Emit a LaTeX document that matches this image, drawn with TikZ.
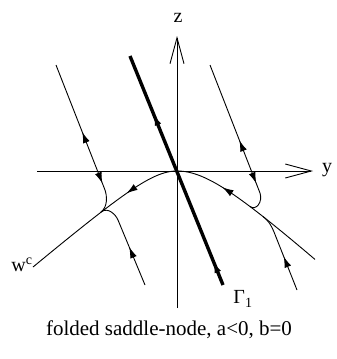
\documentclass[tikz,border=0pt]{standalone}
\usepackage{fontspec}
\setmainfont{Liberation Serif}
\usepackage{tikz}
\usetikzlibrary{arrows.meta, decorations.markings, calc}

\tikzset{
  axis/.style={line width=0.9pt, -{Straight Barb[length=26pt,width=14pt]}},
  orbit/.style={line width=0.9pt},
  gammaline/.style={line width=3.4pt},
  fwd/.style={postaction={decorate, decoration={markings,
      mark=at position #1 with {\arrow{Latex[length=11pt,width=7pt]}}}}},
  bwd/.style={postaction={decorate, decoration={markings,
      mark=at position #1 with {\arrowreversed{Latex[length=11pt,width=7pt]}}}}},
}

\begin{document}
\begin{tikzpicture}[x=1pt, y=-1pt, every node/.style={font=\fontsize{20}{24}\selectfont}]
  \useasboundingbox (0,0) rectangle (337,359);
  \coordinate (O) at (177,171);
  \coordinate (zbot) at (177,308);
  \coordinate (ztop) at (177,36);
  \coordinate (yleft) at (37,171);
  \coordinate (yright) at (313,171);
  \coordinate (gbot) at (223,285);
  \coordinate (gtop) at (130,56);
  \coordinate (ulstart) at (56,65);
  \coordinate (llstart) at (145,285);
  \coordinate (urstart) at (210,65);
  \coordinate (lrstart) at (297,290);
  \coordinate (jleft) at (101,212);
  \coordinate (jright) at (250,206.5);
  \coordinate (jright2) at (263,216.5);

  % axes
  \draw[axis] (zbot) -- (ztop);
  \draw[axis] (yleft) -- (yright);
  \node (zlab) at (178,18) {z};
  \node (ylab) at (327,170) {y};

  % center manifold
  \draw[orbit, bwd=-56pt] plot[domain=-14.4:0, samples=80] ({177+10*\x},{141+10*sqrt(0.7225*\x*\x+9)});
  \draw[orbit, bwd=49pt] plot[domain=0:13.8, samples=80] ({177+10*\x},{128+10*sqrt(0.81*\x*\x+18.49)});
  \node (wlab) at (22,265) {w\textsuperscript{c}};

  % trajectories
  \draw[orbit, bwd=72pt, fwd=127pt] (ulstart) -- (105,190) .. controls (107,196) and (108,206.5) .. (jleft);
  \draw[orbit, fwd=41pt] (llstart) -- (118,220) .. controls (116,215) and (108,206.5) .. (jleft);
  \draw[orbit, bwd=81pt, fwd=127pt] (urstart) -- (260,193) .. controls (263,202) and (256,211) .. (jright);
  \draw[orbit, fwd=36pt] (lrstart) -- (274,232) .. controls (271,225) and (269,221.3) .. (jright2);

  % Gamma_1
  \draw[gammaline, fwd=25pt, fwd=184pt] (gbot) -- (gtop);
  \node (glab) at (243,299) {Γ\textsubscript{1}};

  \node (caption) at (169,330) {\fontsize{21}{25}\selectfont folded saddle-node, a<0, b=0};
\end{tikzpicture}
\end{document}
